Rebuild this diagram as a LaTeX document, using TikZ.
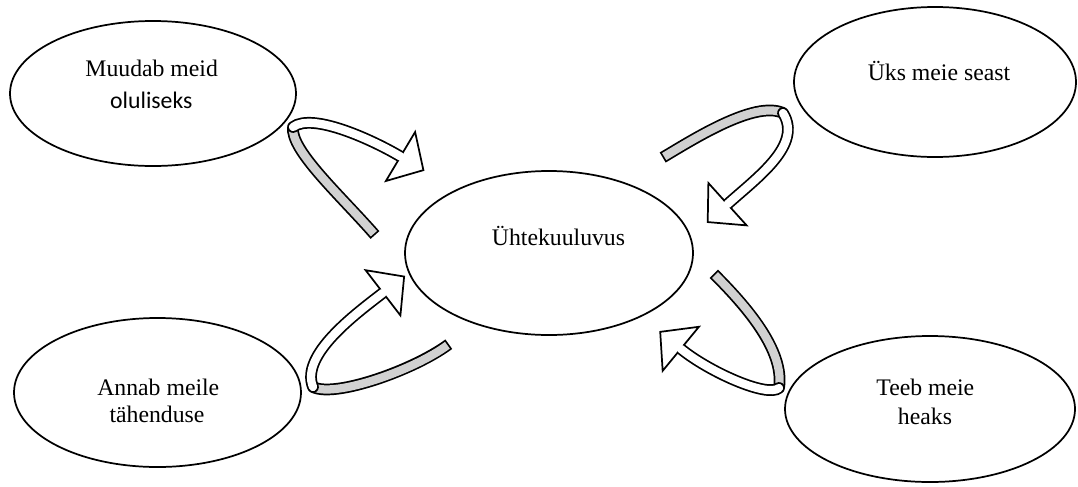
\documentclass[tikz,border=0pt]{standalone}
\usepackage{fontspec}
\setmainfont{Liberation Serif}
\newfontfamily\calibri{Carlito}
\usetikzlibrary{calc,shapes.geometric}

\begin{document}
\begin{tikzpicture}[x=0.75pt,y=-0.75pt,font=\fontsize{17.8}{21}\selectfont]
\tikzstyle{oval}=[draw,ellipse,line width=1.3pt,inner sep=0pt]
\tikzstyle{txt}=[anchor=base,inner sep=0pt]
\tikzstyle{rim}=[line width=8.8pt]
\tikzstyle{back}=[line width=6.2pt,draw=black!18,shorten <=1.3pt]
\tikzstyle{front}=[line width=6.2pt,draw=white,line cap=round]
\tikzstyle{head}=[fill=white,draw,line width=1.3pt,line join=miter]
\useasboundingbox (0,0) rectangle (1078,486);
\node[oval,minimum width=214.5pt,minimum height=108.75pt] (ml) at (153,93.5) {};
\node[oval,minimum width=211.5pt,minimum height=112.5pt] (us) at (935,82) {};
\node[oval,minimum width=216pt,minimum height=123pt] (uh) at (549,253) {};
\node[oval,minimum width=215.25pt,minimum height=111.75pt] (an) at (157.5,392.5) {};
\node[oval,minimum width=217.5pt,minimum height=109.5pt] (tm) at (930,409) {};
\node[txt] (ml1) at (151.7,76.7) {Muudab meid};
\node[txt,font=\calibri\fontsize{17.8}{21}\selectfont] (ml2) at (151.3,108.3) {oluliseks};
\node[txt] (us1) at (939,80) {Üks meie seast};
\node[txt] (uh1) at (558.5,245) {Ühtekuuluvus};
\node[txt] (an1) at (158.3,395) {Annab meile};
\node[txt] (an2) at (157,422) {tähenduse};
\node[txt] (tm1) at (925.3,395) {Teeb meie};
\node[txt] (tm2) at (925,424) {heaks};
% top left
\coordinate (aS) at (375,235); \coordinate (aF) at (293,127); \coordinate (aC) at (374.5,141); \coordinate (aH) at (400.5,156.5);
\draw[rim] (aS) .. controls (340,195) and (290,150) .. (aF);
\draw[back] (aS) .. controls (340,195) and (290,150) .. (aF);
\draw[rim,line cap=round] (aF) .. controls (313,112) and (aC) .. (aH);
\filldraw[head] ($(aH)!21.4pt!90:(aC)$) -- ($(aH)!20pt!180:(aC)$) -- ($(aH)!21.4pt!-90:(aC)$) -- cycle;
\draw[front] (aF) .. controls (313,112) and (aC) .. (aH);
% top right
\coordinate (bS) at (662.7,157.5); \coordinate (bF) at (783,113); \coordinate (bC) at (757.3,177.3); \coordinate (bH) at (727.5,204.2);
\draw[rim] (bS) .. controls (693,139.5) and (755,100) .. (bF);
\draw[back] (bS) .. controls (693,139.5) and (755,100) .. (bF);
\draw[rim,line cap=round] (bF) .. controls (803,145) and (bC) .. (bH);
\filldraw[head] ($(bH)!21.4pt!90:(bC)$) -- ($(bH)!20pt!180:(bC)$) -- ($(bH)!21.4pt!-90:(bC)$) -- cycle;
\draw[front] (bF) .. controls (803,145) and (bC) .. (bH);
% bottom left
\coordinate (cS) at (448.8,344.2); \coordinate (cF) at (313,387); \coordinate (cC) at (355.2,314.2); \coordinate (cH) at (383,292.8);
\draw[rim] (cS) .. controls (414,370) and (335,398) .. (cF);
\draw[back] (cS) .. controls (414,370) and (335,398) .. (cF);
\draw[rim,line cap=round] (cF) .. controls (300,355) and (cC) .. (cH);
\filldraw[head] ($(cH)!21.4pt!90:(cC)$) -- ($(cH)!20pt!180:(cC)$) -- ($(cH)!21.4pt!-90:(cC)$) -- cycle;
\draw[front] (cF) .. controls (300,355) and (cC) .. (cH);
% bottom right
\coordinate (dS) at (713.8,273.8); \coordinate (dF) at (779,388); \coordinate (dC) at (708,371.2); \coordinate (dH) at (680.8,348.8);
\draw[rim] (dS) .. controls (745,305) and (785,350) .. (dF);
\draw[back] (dS) .. controls (745,305) and (785,350) .. (dF);
\draw[rim,line cap=round] (dF) .. controls (767,398) and (dC) .. (dH);
\filldraw[head] ($(dH)!21.4pt!90:(dC)$) -- ($(dH)!20pt!180:(dC)$) -- ($(dH)!21.4pt!-90:(dC)$) -- cycle;
\draw[front] (dF) .. controls (767,398) and (dC) .. (dH);
\end{tikzpicture}
\end{document}
